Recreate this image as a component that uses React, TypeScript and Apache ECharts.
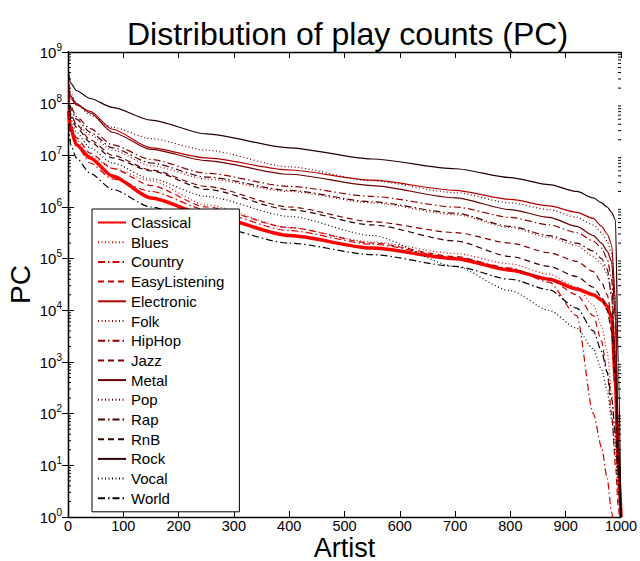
import React, { useEffect, useRef } from 'react';
import * as echarts from 'echarts';

// Artist rank positions at which the curves were read
const artistRank = [1, 5, 15, 40, 80, 150, 250, 400, 550, 700, 800, 870, 920, 950, 965, 975, 983, 990, 995, 1000];

const genres = ['Classical', 'Blues', 'Country', 'EasyListening', 'Electronic', 'Folk', 'HipHop', 'Jazz', 'Metal', 'Pop', 'Rap', 'RnB', 'Rock', 'Vocal', 'World'];

const classical = [7.1e7, 3.2e7, 1.6e7, 8.9e6, 4.0e6, 1.5e6, 7.1e5, 2.8e5, 1.6e5, 1.0e5, 6.0e4, 4.0e4, 2.6e4, 2.0e4, 1.6e4, 1.2e4, 7.1e3, 400, 10, 1];
const blues = [7.9e7, 3.5e7, 2.0e7, 1.0e7, 5.6e6, 3.2e6, 1.1e6, 4.0e5, 2.1e5, 1.26e5, 7.9e4, 5.0e4, 2.8e4, 1.26e4, 5.0e3, 1.6e3, 250, 25, 3.2, 1];
const country = [7.9e7, 3.2e7, 1.6e7, 7.1e6, 3.5e6, 2.0e6, 8.9e5, 3.5e5, 1.9e5, 1.05e5, 6.6e4, 3.5e4, 7.9e3, 100, 22, 5.6, 1.26, 0.3, 0.1, 0.1];
const easyListening = [8.9e7, 4.0e7, 2.2e7, 1.1e7, 5.6e6, 2.6e6, 1.0e6, 4.0e5, 2.0e5, 1.1e5, 6.3e4, 4.0e4, 2.0e4, 7.9e3, 2.5e3, 630, 100, 10, 1.6, 0.3];
const electronic = [2.0e8, 1.26e8, 9.5e7, 7.1e7, 3.2e7, 1.4e7, 8.9e6, 5.2e6, 3.3e6, 2.1e6, 1.4e6, 1.05e6, 7.9e5, 6.0e5, 4.2e5, 3.0e5, 1.9e5, 1.6e4, 32, 1];
const folk = [1.0e8, 6.3e7, 4.0e7, 2.5e7, 1.26e7, 6.3e6, 3.5e6, 2.0e6, 1.2e6, 7.1e5, 4.0e5, 2.6e5, 1.8e5, 1.1e5, 7.9e4, 5.0e4, 2.0e4, 1.0e3, 10, 1];
const hipHop = [1.6e8, 8.9e7, 5.6e7, 3.3e7, 1.6e7, 8.3e6, 4.5e6, 2.5e6, 1.6e6, 1.0e6, 6.3e5, 4.5e5, 3.2e5, 2.2e5, 1.6e5, 1.0e5, 4.0e4, 1.0e3, 10, 1];
const jazz = [1.26e8, 6.3e7, 4.0e7, 2.0e7, 1.0e7, 5.2e6, 2.5e6, 1.0e6, 5.2e5, 3.2e5, 2.0e5, 1.3e5, 8.9e4, 5.6e4, 3.5e4, 2.0e4, 7.9e3, 1.0e3, 32, 1];
const metal = [2.5e8, 1.4e8, 1.0e8, 6.6e7, 2.8e7, 1.3e7, 7.9e6, 4.3e6, 2.6e6, 1.5e6, 8.9e5, 6.3e5, 4.2e5, 2.8e5, 2.0e5, 1.4e5, 8.9e4, 6.3e3, 16, 1];
const pop = [3.2e8, 1.6e8, 1.0e8, 6.0e7, 3.5e7, 2.1e7, 1.26e7, 6.0e6, 3.2e6, 1.9e6, 1.2e6, 8.9e5, 6.3e5, 4.5e5, 3.2e5, 2.2e5, 1.26e5, 1.0e4, 32, 1];
const rap = [1.8e8, 7.9e7, 5.0e7, 2.8e7, 1.4e7, 7.1e6, 3.8e6, 2.1e6, 1.26e6, 7.6e5, 4.2e5, 2.8e5, 2.0e5, 1.4e5, 1.0e5, 6.3e4, 2.0e4, 630, 10, 1];
const rnb = [1.0e8, 5.6e7, 3.5e7, 1.8e7, 8.9e6, 5.0e6, 2.2e6, 8.9e5, 4.5e5, 2.2e5, 1.1e5, 7.1e4, 4.5e4, 2.8e4, 1.8e4, 1.0e4, 4.0e3, 400, 16, 1];
const rock = [4.0e8, 2.5e8, 1.8e8, 1.26e8, 8.5e7, 4.8e7, 2.6e7, 1.4e7, 8.5e6, 5.5e6, 3.7e6, 2.7e6, 2.0e6, 1.5e6, 1.2e6, 1.0e6, 7.9e5, 5.6e5, 1.0e3, 1];
const vocal = [1.0e8, 5.0e7, 2.8e7, 1.4e7, 7.1e6, 3.5e6, 1.6e6, 6.6e5, 2.8e5, 7.1e4, 2.4e4, 1.0e4, 4.5e3, 1.8e3, 710, 280, 79, 16, 3.2, 1];
const world = [4.0e7, 1.6e7, 8.9e6, 4.5e6, 2.2e6, 1.0e6, 4.5e5, 2.0e5, 1.2e5, 7.1e4, 4.0e4, 2.5e4, 1.1e4, 4.0e3, 1.6e3, 630, 200, 40, 7.9, 1];

const seriesValues = [classical, blues, country, easyListening, electronic, folk, hipHop, jazz, metal, pop, rap, rnb, rock, vocal, world];

const lineColors = ['#ff0000', '#ed0000', '#db0000', '#c80000', '#b60000', '#a40000', '#920000', '#800000', '#6d0000', '#5b0000', '#490000', '#370000', '#240000', '#120000', '#000000'];
const styleCycle: any[] = ['solid', [1, 2.5], [7, 3, 1.5, 3], [6, 4]];

const yExponents = [0, 1, 2, 3, 4, 5, 6, 7, 8, 9];
const minorMultipliers = [2, 3, 4, 5, 6, 7, 8, 9];

const FONT = '"Liberation Sans", Arial, Helvetica, sans-serif';

export default function App() {
  const ref = useRef<HTMLDivElement>(null);
  useEffect(() => {
    const chart = echarts.init(ref.current!, null, { renderer: 'svg' });

    const minorTicks: number[][] = [];
    yExponents.slice(0, 9).forEach((e) => {
      minorMultipliers.forEach((m) => minorTicks.push([0, m * Math.pow(10, e)]));
    });

    const lineSeries = genres.map((g, i) => ({
      name: g,
      type: 'line',
      xAxisIndex: 0,
      yAxisIndex: 0,
      data: artistRank.map((x, k) => [x, seriesValues[i][k]]),
      symbol: 'none',
      showSymbol: false,
      clip: true,
      smooth: 0.25,
      smoothMonotone: 'x',
      lineStyle: {
        color: lineColors[i],
        width: i === 0 ? 3.5 : 1.2,
        type: styleCycle[i % 4],
      },
      itemStyle: { color: lineColors[i] },
      z: 2,
    }));

    const axisCommonLine = { show: true, lineStyle: { color: '#000', width: 1.3 } };

    const option: any = {
      animation: false,
      backgroundColor: '#fff',
      textStyle: { fontFamily: FONT },
      title: {
        text: 'Distribution of play counts (PC)',
        left: 122,
        top: 13,
        textStyle: { fontSize: 32, fontWeight: 'normal', color: '#000', fontFamily: FONT },
      },
      grid: { left: 68, right: 19, top: 52, bottom: 44, containLabel: false, outerBoundsMode: 'none' },
      legend: {
        orient: 'vertical',
        left: 92,
        top: 209,
        data: genres,
        itemWidth: 28,
        itemHeight: 14,
        itemGap: 4.7,
        padding: [6, 15, 6, 5],
        backgroundColor: '#fff',
        borderColor: '#000',
        borderWidth: 1,
        borderRadius: 0,
        itemStyle: { opacity: 0 },
        textStyle: { fontSize: 15, color: '#000', lineHeight: 15, fontFamily: FONT },
        z: 10,
      },
      xAxis: [
        {
          type: 'value',
          position: 'bottom',
          min: 0,
          max: 1000,
          interval: 100,
          axisLine: axisCommonLine,
          axisTick: { show: true, inside: true, length: 6, lineStyle: { color: '#000' } },
          axisLabel: { show: true, color: '#000', fontSize: 14.5, margin: 2, lineHeight: 13, fontFamily: FONT, formatter: (v: number) => String(v) },
          splitLine: { show: false },
          name: 'Artist',
          nameLocation: 'middle',
          nameGap: 18,
          nameMoveOverlap: false,
          nameTextStyle: { fontSize: 27, lineHeight: 25, color: '#000', fontFamily: FONT },
        },
        {
          type: 'value',
          position: 'top',
          min: 0,
          max: 1000,
          interval: 100,
          axisLine: axisCommonLine,
          axisTick: { show: true, inside: true, length: 6, lineStyle: { color: '#000' } },
          axisLabel: { show: false },
          splitLine: { show: false },
        },
      ],
      yAxis: [
        {
          type: 'log',
          logBase: 10,
          position: 'left',
          min: 1,
          max: 1e9,
          splitNumber: 9,
          axisLine: axisCommonLine,
          axisTick: { show: true, inside: true, length: 6, lineStyle: { color: '#000' } },
          axisLabel: {
            show: true,
            margin: 6,
            formatter: (v: number) => `{b|10}{e|${Math.round(Math.log10(v))}}`,
            rich: {
              b: { fontSize: 15, color: '#000', fontFamily: FONT },
              e: { fontSize: 10, color: '#000', fontFamily: FONT, padding: [0, 0, 10, 0] },
            },
          },
          splitLine: { show: false },
          name: 'PC',
          nameLocation: 'middle',
          nameGap: 34,
          nameMoveOverlap: false,
          nameRotate: 90,
          nameTextStyle: { fontSize: 28, color: '#000', fontFamily: FONT },
        },
        {
          type: 'log',
          logBase: 10,
          position: 'right',
          min: 1,
          max: 1e9,
          splitNumber: 9,
          axisLine: axisCommonLine,
          axisTick: { show: true, inside: true, length: 6, lineStyle: { color: '#000' } },
          axisLabel: { show: false },
          splitLine: { show: false },
        },
      ],
      series: [
        ...lineSeries,
        {
          name: 'minorTicks',
          type: 'custom',
          xAxisIndex: 0,
          yAxisIndex: 0,
          silent: true,
          clip: false,
          z: 5,
          data: minorTicks,
          renderItem: (params: any, api: any) => {
            const v = api.value(1);
            const l = api.coord([0, v]);
            const r = api.coord([1000, v]);
            return {
              type: 'group',
              children: [
                { type: 'line', shape: { x1: l[0], y1: l[1], x2: l[0] + 3, y2: l[1] }, style: { stroke: '#000', lineWidth: 1 } },
                { type: 'line', shape: { x1: r[0] - 3, y1: r[1], x2: r[0], y2: r[1] }, style: { stroke: '#000', lineWidth: 1 } },
              ],
            };
          },
        },
      ],
    };

    chart.setOption(option);
    return () => chart.dispose();
  }, []);

  return (
    <div
      ref={ref}
      style={{ position: 'fixed', left: 0, top: 0, width: 640, height: 561, background: '#fff' }}
    />
  );
}
